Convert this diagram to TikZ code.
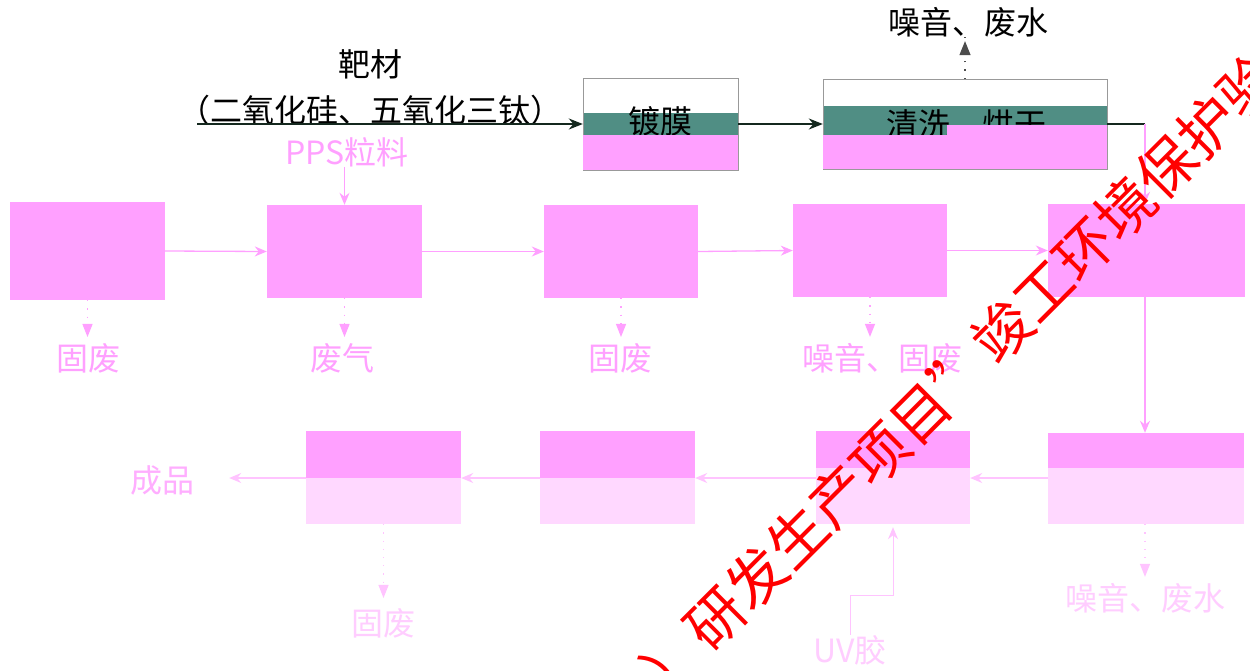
\documentclass[tikz,border=0pt]{standalone}
\usepackage{fontspec}
\setmainfont{Noto Sans CJK SC}
\usetikzlibrary{arrows.meta,calc}
\definecolor{pk}{RGB}{255,160,255}
\definecolor{lpk}{RGB}{255,216,255}
\definecolor{lpkline}{RGB}{255,196,255}
\definecolor{lpktext}{RGB}{255,205,255}
\definecolor{tealband}{RGB}{80,142,132}
\definecolor{darkln}{RGB}{20,40,30}
\tikzset{
  txt/.style={inner sep=0pt, font=\fontsize{32}{36}\selectfont},
  pbox/.style={rectangle, fill=pk, draw=none, inner sep=0pt},
  lbox/.style={rectangle, fill=lpk, draw=none, inner sep=0pt},
  parr/.style={draw=pk, line width=1.3pt, -{Stealth[length=12pt,width=10pt]}},
  larr/.style={draw=lpkline, line width=1.2pt, -{Stealth[length=12pt,width=10pt]}},
  pdot/.style={draw=pk, line width=1.2pt, dash pattern=on 1.2pt off 7pt, -{Triangle[length=13pt,width=10pt]}},
  ldot/.style={draw=lpkline, line width=1.2pt, dash pattern=on 1.2pt off 7pt, -{Triangle[length=13pt,width=10pt]}},
  kdot/.style={draw=black!70, line width=1.2pt, dash pattern=on 1.2pt off 7pt, -{Triangle[length=14pt,width=11pt]}},
  karr/.style={draw=darkln, line width=1.6pt, -{Stealth[length=14pt,width=11pt]}},
}
\begin{document}
\begin{tikzpicture}[x=1pt,y=-1pt]
\useasboundingbox (0,0) rectangle (1250,670);
\clip (0,0) rectangle (1250,670);
\fill[white] (0,0) rectangle (1250,670);

% ---------- top row ----------
\node[txt] (bc) at (370,64) {靶材};
\node[txt] (bc2) at (370,110) {（二氧化硅、五氧化三钛）};
\coordinate (bstart) at (197,124);

% 镀膜 box
\node[rectangle, draw=black!40, fill=white, minimum width=155pt, minimum height=92pt, inner sep=0pt,
  path picture={\fill[tealband] ($(path picture bounding box.north west)+(0,35)$) rectangle ($(path picture bounding box.south east)+(0,-35)$);}]
  (dm) at (660.5,124) {};
\node[txt] (dmt) at (660,121) {镀膜};
\fill[pk] ($(dm.south west)+(0,-35)$) rectangle (dm.south east);

% 清洗、烘干 box
\node[rectangle, draw=black!40, fill=white, minimum width=284pt, minimum height=90pt, inner sep=0pt,
  path picture={\fill[tealband] ($(path picture bounding box.north west)+(0,27)$) rectangle ($(path picture bounding box.south east)+(0,-34)$);}]
  (qx) at (965,124) {};
\node[txt] (qxt) at (966,124) {清洗、烘干};
\fill[pk] ($(qx.south west)+(0,-34)$) rectangle (qx.south east);
\fill[pk] ($(qx.south east)+(-160,-44)$) rectangle (qx.south east);

\node[txt] (ny1) at (968,22) {噪音、废水};

\draw[karr] (bstart) -- (dm.west);
\draw[karr] (dm.east) -- (qx.west);
\draw[kdot] (qx.north) -- (qx.north |- ny1.south) ++(0,4);
\coordinate (c1) at (1145,124);
\draw[darkln, line width=1.3pt] (qx.east) -- (c1);

% ---------- second row ----------
\node[pbox, minimum width=155pt, minimum height=98pt] (b1) at (87.5,251) {};
\node[pbox, minimum width=155pt, minimum height=93pt] (b2) at (344.5,251.5) {};
\node[pbox, minimum width=154pt, minimum height=93pt] (b3) at (621,251.5) {};
\node[pbox, minimum width=154pt, minimum height=93pt] (b4) at (870,250.5) {};
\node[pbox, minimum width=197pt, minimum height=93pt] (b5) at (1146.5,250.5) {};

\node[txt, text=pk] (pps) at (347,152) {PPS粒料};
\draw[parr] (pps.south -| b2.north) -- (b2.north);

\draw[parr] (b1.east) -- (b2.west);
\draw[parr] (b2.east) -- (b3.west);
\draw[parr] (b3.east) -- (b4.west);
\draw[parr] (b4.east) -- (b5.west);
\draw[parr] (c1) -- (c1 |- b5.north);

\node[txt, text=pk] (l1) at (88,358) {固废};
\node[txt, text=pk] (l2) at (342,358) {废气};
\node[txt, text=pk] (l3) at (620,358) {固废};
\node[txt, text=pk] (l4) at (882,358) {噪音、固废};
\draw[pdot] (b1.south) -- ($(b1.south |- l1.north)+(0,-6)$);
\draw[pdot] (b2.south) -- ($(b2.south |- l2.north)+(0,-6)$);
\draw[pdot] (b3.south) -- ($(b3.south |- l3.north)+(0,-6)$);
\draw[pdot] (b4.south) -- ($(b4.south |- l4.north)+(0,-6)$);

% ---------- third row ----------
\node[lbox, minimum width=196pt, minimum height=91pt] (ra) at (1146,478.5) {};
\fill[pk] (ra.north west) rectangle ($(ra.north east)+(0,35)$);
\node[lbox, minimum width=154pt, minimum height=93pt] (rb) at (893,477.5) {};
\fill[pk] (rb.north west) rectangle ($(rb.north east)+(0,37)$);
\node[lbox, minimum width=155pt, minimum height=93pt] (rc) at (617.5,477.5) {};
\fill[pk] (rc.north west) rectangle ($(rc.north east)+(0,47)$);
\node[lbox, minimum width=155pt, minimum height=93pt] (rd) at (383.5,477.5) {};
\fill[pk] (rd.north west) rectangle ($(rd.north east)+(0,47)$);

\node[txt, text=pk!85] (cp) at (162,480) {成品};
\node[txt, text=lpktext] (ny2) at (1145,598) {噪音、废水};
\node[txt, text=lpktext] (gf3) at (383,623) {固废};
\node[txt, text=lpktext] (uv) at (850,650) {UV胶};

\draw[parr] (b5.south -| c1) -- (ra.north -| c1);
\draw[larr] (ra.west |- 0,478) -- (rb.east |- 0,478);
\draw[larr] (rb.west |- 0,478) -- (rc.east |- 0,478);
\draw[larr] (rc.west |- 0,478) -- (rd.east |- 0,478);
\draw[larr] (rd.west |- 0,478) -- ($(cp.east |- 0,478)+(35,0)$);

\draw[ldot] (ra.south -| c1) -- ($(c1 |- ny2.north)+(0,-6)$);
\draw[ldot] (rd.south) -- ($(rd.south |- gf3.north)+(0,-10)$);
\coordinate (uvk) at (850,595);
\draw[larr, line width=1pt] (uv.north) -- (uvk) -| ($(rb.south)+(0,3)$);

% ---------- watermark ----------
\node[rotate=45, inner sep=0pt, text=red, font=\fontsize{58}{60}\selectfont] (wm) at (961,372) {）研发生产项目\makebox[1em][l]{”}竣工环境保护验};
\end{tikzpicture}
\end{document}
